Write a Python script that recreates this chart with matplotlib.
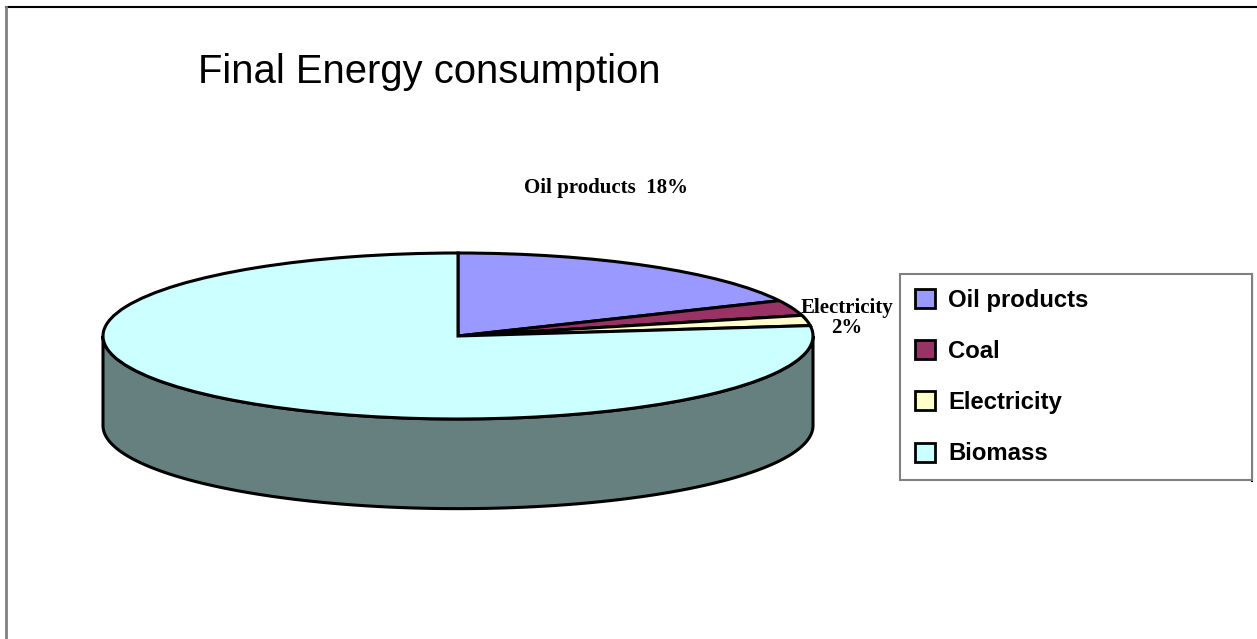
import matplotlib.pyplot as plt
import numpy as np
from matplotlib.patches import Patch, Polygon
from matplotlib.lines import Line2D

W, H = 1257, 639

categories = ["Oil products", "Coal", "Electricity", "Biomass"]
shares = [18, 3, 2, 77]
colors = ["#9999FF", "#993366", "#FFFFCC", "#CCFFFF"]
side_color = "#668080"
title = "Final Energy consumption"
labels_shown = {"Oil products": "Oil products  18%", "Electricity": "Electricity\n2%"}


def px(x, y):
    # pixel position (from top-left) -> figure fraction
    return x / W, 1 - y / H


fig = plt.figure(figsize=(W / 100, H / 100), dpi=100)

# pie axes: unit circle -> ellipse with a=355px, b=83px, centre at (458, 336)
a, b = 355, 83
cx, cy = 458, 336
xlim = (-1.3, 1.3)
ylim = (-2.4, 1.3)
left = cx + xlim[0] * a
bottom = (H - cy) + ylim[0] * b
ax = fig.add_axes([left / W, bottom / H, (xlim[1] - xlim[0]) * a / W,
                   (ylim[1] - ylim[0]) * b / H])

# side of the cake (front half)
depth = 1.08
t = np.linspace(np.pi, 2 * np.pi, 200)
upper = np.column_stack([np.cos(t), np.sin(t)])
lower = np.column_stack([np.cos(t[::-1]), np.sin(t[::-1]) - depth])
side = Polygon(np.vstack([upper, lower]), closed=True, facecolor=side_color,
               edgecolor="black", linewidth=2.2, zorder=1)
ax.add_patch(side)

wedges, _ = ax.pie(shares, colors=colors, startangle=90, counterclock=False,
                   wedgeprops=dict(edgecolor="black", linewidth=2.2))
for w in wedges:
    w.set_zorder(2)
ax.set_aspect("auto")
ax.set_xlim(*xlim)
ax.set_ylim(*ylim)
ax.axis("off")

# data labels
fig.text(*px(606, 188), labels_shown["Oil products"], ha="center", va="center",
         family="Liberation Serif", weight="bold", fontsize=15)
fig.text(*px(847, 318), labels_shown["Electricity"], ha="center", va="center",
         family="Liberation Serif", weight="bold", fontsize=15, linespacing=1.05)

# title
fig.text(*px(198, 72), title, ha="left", va="center",
         family="Liberation Sans", fontsize=28.8)

# legend
handles = [Patch(facecolor=c, edgecolor="black", linewidth=2) for c in colors]
leg = fig.legend(handles, categories, loc="upper left",
                 bbox_to_anchor=(900 / W, (H - 481) / H, 352 / W, 207 / H),
                 mode="expand", borderaxespad=0, fancybox=False, framealpha=1,
                 edgecolor="#808080", borderpad=0.62, labelspacing=1.18,
                 handlelength=0.84, handleheight=0.84, handletextpad=0.55,
                 prop=dict(family="Liberation Sans", weight="bold", size=17.2))
leg.get_frame().set_linewidth(1.5)
fig.add_artist(Line2D([1252 / W, 1252 / W], [1 - 274 / H, 1 - 481 / H],
                      color="black", linewidth=1.5))

# outer frame (top and left visible)
fig.add_artist(Line2D([6 / W, 1.0], [1 - 7 / H, 1 - 7 / H], color="black", linewidth=1.5))
fig.add_artist(Line2D([6 / W, 6 / W], [1 - 7 / H, 0.0], color="#808080", linewidth=2))

fig.savefig("out.png", dpi=100)
